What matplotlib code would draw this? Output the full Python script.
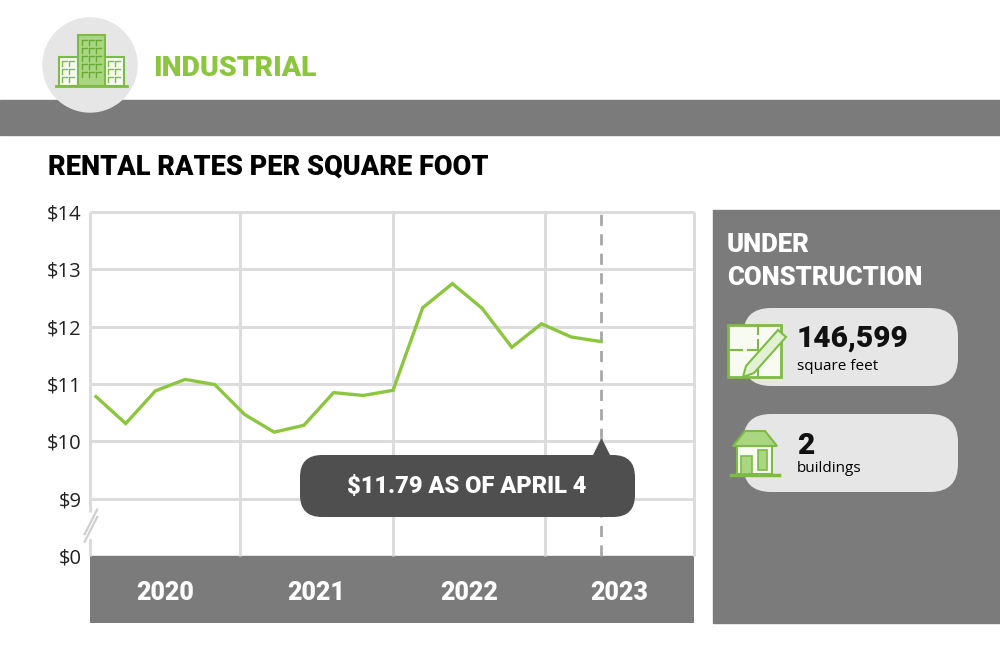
import numpy as np
import matplotlib.pyplot as plt
from matplotlib.patches import Rectangle, Circle, FancyBboxPatch, Polygon

W, H = 1000, 666
GREEN = '#8cc63f'
ICON_GREEN = '#7dbb46'
LIGHT_GREEN = '#a9d680'
BAND = '#7b7b7b'
PILL = '#e6e6e6'
DARK = '#4f4f4f'
GRID = '#dcdcdc'

# data (axis is broken: 8 stands for $0)
periods = list(range(18))
rent = [10.78, 10.31, 10.88, 11.08, 10.99, 10.47, 10.16, 10.28, 10.85,
        10.80, 10.89, 12.33, 12.75, 12.32, 11.64, 12.05, 11.82, 11.74]
years = ['2020', '2021', '2022', '2023']
year_edges = [-0.202, 4.85, 10.0, 15.12, 20.135]
ytick_vals = [8, 9, 10, 11, 12, 13, 14]
ytick_labels = ['$0', '$9', '$10', '$11', '$12', '$13', '$14']
callout = '$11.79 AS OF APRIL 4'
sq_feet = '146,599'
n_buildings = '2'

HEAD = 'Roboto'
REG = 'Open Sans'
HW = 'heavy'

fig = plt.figure(figsize=(W / 100, H / 100), dpi=100)

# background layer in pixel coords (y down)
bg = fig.add_axes([0, 0, 1, 1], zorder=0)
bg.set_xlim(0, W)
bg.set_ylim(H, 0)
bg.axis('off')

bg.add_patch(Rectangle((0, 100), W, 35, color=BAND))
bg.add_patch(Circle((90, 65), 47, color='#e6e6e6', zorder=3))

# building icon
bg.add_patch(Rectangle((59, 57), 19, 29, fc='#f7fbf2', ec=ICON_GREEN, lw=1.5, zorder=4))
bg.add_patch(Rectangle((105, 57), 19, 29, fc='#f7fbf2', ec=ICON_GREEN, lw=1.5, zorder=4))
bg.add_patch(Rectangle((78, 35), 27, 51, fc=LIGHT_GREEN, ec=ICON_GREEN, lw=1.5, zorder=5))
bg.plot([56, 127], [86, 86], color=ICON_GREEN, lw=2, zorder=6)
for x0 in (62, 69, 108, 115):
    for y0 in (61, 69, 77):
        bg.plot([x0, x0, x0 + 5], [y0 + 5, y0, y0], color=ICON_GREEN, lw=1, zorder=6)
for x0 in (82, 89, 96):
    for y0 in (40, 48, 56, 64, 72):
        bg.plot([x0, x0, x0 + 5], [y0 + 5, y0, y0], color='#6aa83a', lw=1, zorder=6)

bg.text(153, 68, 'INDUSTRIAL', color=GREEN, fontsize=20.5, fontweight=HW,
        family=HEAD, va='center', ha='left')
bg.text(48, 167, 'RENTAL RATES PER SQUARE FOOT', color='black', fontsize=19.5,
        fontweight=HW, family=HEAD, va='center', ha='left')

# right panel
bg.add_patch(Rectangle((713, 210), W - 713, 413, color=BAND))
bg.text(727, 245, 'UNDER', color='white', fontsize=18.5, fontweight=HW,
        family=HEAD, va='center')
bg.text(727, 278, 'CONSTRUCTION', color='white', fontsize=18.5, fontweight=HW,
        family=HEAD, va='center')
for top in (308, 414):
    bg.add_patch(FancyBboxPatch((743, top), 215, 78,
                                boxstyle='round,pad=0,rounding_size=28',
                                fc=PILL, ec='none'))
bg.text(797, 339, sq_feet, fontsize=21.5, fontweight=HW, family=HEAD, va='center',
        color='#111111')
bg.text(797, 366, 'square feet', fontsize=11, family=REG, va='center')
bg.text(797, 446, n_buildings, fontsize=21.5, fontweight=HW, family=HEAD, va='center',
        color='#111111')
bg.text(797, 468, 'buildings', fontsize=11, family=REG, va='center')

# blueprint icon
bg.add_patch(Rectangle((728, 325), 53, 52, fc='#f7fbf2', ec=ICON_GREEN, lw=2, zorder=4))
bg.plot([728, 742], [350, 350], color=ICON_GREEN, lw=1.5, zorder=5)
bg.plot([748, 758, 758], [350, 350, 340], color=ICON_GREEN, lw=1.5, zorder=5)
bg.plot([758, 758], [325, 334], color=ICON_GREEN, lw=1.5, zorder=5)
bg.plot([758, 758], [356, 377], color=ICON_GREEN, lw=1.5, zorder=5)
bg.add_patch(Polygon([[746, 366], [778, 330], [786, 337], [754, 373], [743, 377]],
                     closed=True, fc='#e3f1d3', ec=ICON_GREEN, lw=1.5, zorder=6))

# house icon
bg.add_patch(Polygon([[733, 446], [745, 431], [765, 431], [777, 446]], closed=True,
                     fc=LIGHT_GREEN, ec=ICON_GREEN, lw=1.5, zorder=4))
bg.add_patch(Rectangle((737, 446), 35, 28, fc='#f7fbf2', ec=ICON_GREEN, lw=1.5, zorder=4))
bg.add_patch(Rectangle((741, 456), 11, 18, fc=LIGHT_GREEN, ec=ICON_GREEN, lw=1.2, zorder=5))
bg.add_patch(Rectangle((758, 450), 9, 20, fc=LIGHT_GREEN, ec=ICON_GREEN, lw=1.2, zorder=5))
bg.plot([731, 779], [474.5, 474.5], color=ICON_GREEN, lw=2.5, zorder=6)

# chart
ax = fig.add_axes([90 / W, (H - 623) / H, 604 / W, (623 - 210) / H], zorder=1)
ax.set_facecolor('none')
ax.set_xlim(year_edges[0], year_edges[-1])
ax.set_ylim(6.8314, 14.0349)
for s in ax.spines.values():
    s.set_visible(False)

ax.axhspan(6.8314, 8, color=BAND, zorder=1)
ax.hlines(ytick_vals[1:], year_edges[0], year_edges[-1], color=GRID, lw=2.2,
          zorder=1, clip_on=False)
ax.vlines(year_edges, 8, 14, color=GRID, lw=2.2, zorder=1, clip_on=False)
# axis break
ax.fill_between([year_edges[0] - 0.2, year_edges[0] + 0.2], 8.32, 8.75,
                color='white', zorder=2, clip_on=False)
ax.plot([-0.38, 0.04], [8.25, 8.68], color='#cfcfcf', lw=1.6, zorder=3, clip_on=False)
ax.plot([-0.38, 0.04], [8.38, 8.81], color='#cfcfcf', lw=1.6, zorder=3, clip_on=False)

ax.vlines(periods[-1], 8, 14, color='#a8a8a8', lw=2, linestyles=(0, (4, 3)), zorder=2)
ax.plot(periods, rent, color=GREEN, lw=2.4, zorder=4, solid_joinstyle='miter')
ax.plot(periods[-1], 9.9, marker='^', ms=11, color=DARK, zorder=5, clip_on=False)

ax.set_yticks(ytick_vals, ytick_labels)
ax.set_xticks([])
ax.tick_params(axis='y', length=0, pad=6, labelsize=14.5, labelcolor='#222222')
for lab in ax.get_yticklabels():
    lab.set_family(REG)

for i, yr in enumerate(years):
    ax.text((year_edges[i] + year_edges[i + 1]) / 2, 7.355, yr, color='white',
            fontsize=18, fontweight=HW, family=HEAD, ha='center', va='center')

# callout layer
top = fig.add_axes([0, 0, 1, 1], zorder=2)
top.set_xlim(0, W)
top.set_ylim(H, 0)
top.axis('off')
top.add_patch(FancyBboxPatch((300, 455), 335, 62,
                             boxstyle='round,pad=0,rounding_size=22',
                             fc=DARK, ec='none'))
top.text(467, 487, callout, color='white', fontsize=17, fontweight=HW,
         family=HEAD, ha='center', va='center')

fig.savefig('out.png', dpi=100)
